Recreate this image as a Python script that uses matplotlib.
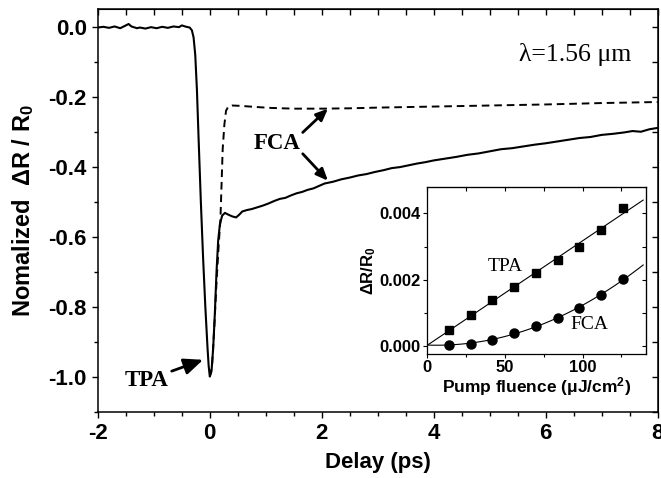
import numpy as np
import matplotlib
matplotlib.use("Agg")
import matplotlib.pyplot as plt
from matplotlib.ticker import MultipleLocator, FormatStrFormatter

plt.rcParams['font.family'] = ['Liberation Sans', 'DejaVu Sans']
plt.rcParams['axes.unicode_minus'] = False
plt.rcParams['lines.scale_dashes'] = False
plt.rcParams['mathtext.fontset'] = 'custom'
plt.rcParams['mathtext.rm'] = 'Liberation Sans:bold'
plt.rcParams['mathtext.it'] = 'Liberation Sans:bold'

# main trace: pump-probe delay (ps) vs normalized dR/R0
delay_meas = [-2.0, -1.9, -1.8, -1.7, -1.6, -1.5, -1.45, -1.4, -1.3, -1.25, -1.15, -1.05,
              -0.95, -0.85, -0.75, -0.65, -0.55, -0.5, -0.42, -0.36, -0.32, -0.29, -0.26,
              -0.23, -0.2, -0.16, -0.12, -0.08, -0.04, -0.02, 0.0, 0.03, 0.06, 0.09, 0.12,
              0.15, 0.18, 0.22, 0.27, 0.33, 0.4, 0.47, 0.52, 0.58, 0.66, 0.75, 0.85, 0.95,
              1.05, 1.15, 1.25, 1.35, 1.45, 1.55, 1.65, 1.75, 1.85, 1.95, 2.05, 2.2, 2.35,
              2.5, 2.65, 2.8, 2.95, 3.1, 3.25, 3.4, 3.55, 3.7, 3.85, 4.0, 4.2, 4.4, 4.6,
              4.8, 5.0, 5.2, 5.4, 5.6, 5.8, 6.0, 6.2, 6.4, 6.6, 6.8, 7.0, 7.2, 7.4, 7.55,
              7.7, 7.85, 8.0]
dr_meas = [-0.002, 0.0, -0.003, 0.001, -0.004, 0.004, 0.008, 0.001, -0.004, -0.002,
           -0.005, -0.001, -0.004, 0.0, -0.003, 0.001, -0.001, 0.004, 0.0, -0.002,
           -0.01, -0.03, -0.08, -0.18, -0.32, -0.5, -0.66, -0.8, -0.92, -0.97, -1.0,
           -0.985, -0.92, -0.82, -0.7, -0.61, -0.565, -0.54, -0.532, -0.537, -0.542,
           -0.545, -0.538, -0.528, -0.524, -0.521, -0.516, -0.511, -0.505, -0.498,
           -0.492, -0.489, -0.482, -0.476, -0.472, -0.466, -0.462, -0.455, -0.448,
           -0.443, -0.436, -0.431, -0.425, -0.421, -0.415, -0.41, -0.404, -0.401,
           -0.396, -0.391, -0.387, -0.382, -0.377, -0.372, -0.366, -0.362, -0.356,
           -0.35, -0.347, -0.342, -0.337, -0.333, -0.328, -0.323, -0.318, -0.315,
           -0.309, -0.306, -0.302, -0.298, -0.3, -0.293, -0.289]

# dashed trace
delay_fit = [0.0, 0.04, 0.08, 0.12, 0.16, 0.19, 0.21, 0.23, 0.26, 0.29, 0.33, 0.4, 0.55,
             0.8, 1.1, 1.5, 2.0, 2.5, 3.0, 4.0, 5.0, 6.0, 7.0, 8.0]
dr_fit = [-1.0, -0.97, -0.86, -0.73, -0.62, -0.55, -0.45, -0.35, -0.28, -0.24, -0.228,
          -0.225, -0.226, -0.229, -0.232, -0.234, -0.234, -0.233, -0.231, -0.228,
          -0.225, -0.222, -0.218, -0.215]

# inset: pump fluence dependence
fluence = [14, 28, 42, 56, 70, 84, 98, 112, 126]
tpa_amp = [0.00048, 0.00094, 0.00138, 0.00178, 0.00222, 0.0026, 0.0030, 0.0035, 0.00416]
fca_amp = [0.00004, 0.00008, 0.0002, 0.0004, 0.0006, 0.00086, 0.00115, 0.00155, 0.00202]

fig = plt.figure(figsize=(6.61, 4.78), dpi=100)
ax = fig.add_axes([0.148, 0.139, 0.847, 0.8415])

ax.plot(delay_meas, dr_meas, color='black', lw=1.5)
ax.plot(delay_fit, dr_fit, color='black', lw=1.4, ls=(0, (5.5, 3.5)))

ax.set_xlim(-2, 8)
ax.set_ylim(-1.1, 0.05)
ax.xaxis.set_major_locator(MultipleLocator(2))
ax.xaxis.set_minor_locator(MultipleLocator(0.5))
ax.yaxis.set_major_locator(MultipleLocator(0.2))
ax.yaxis.set_minor_locator(MultipleLocator(0.1))
ax.yaxis.set_major_formatter(FormatStrFormatter('%.1f'))
ax.xaxis.set_major_formatter(FormatStrFormatter('%d'))
ax.tick_params(which='both', direction='out', top=False, right=False, width=1.0)
ax.tick_params(which='major', length=4, labelsize=16, pad=4)
ax.tick_params(which='minor', length=3)
for lbl in ax.get_xticklabels() + ax.get_yticklabels():
    lbl.set_fontweight('bold')
sec_x = ax.secondary_xaxis('top')
sec_x.xaxis.set_major_locator(MultipleLocator(0.5))
sec_x.tick_params(direction='in', length=4, width=1.0, labeltop=False)
sec_y = ax.secondary_yaxis('right')
sec_y.yaxis.set_major_locator(MultipleLocator(0.1))
sec_y.tick_params(direction='in', length=4, width=1.0, labelright=False)
for s in ax.spines.values():
    s.set_linewidth(1.1)

ax.set_xlabel('Delay (ps)', fontsize=16, fontweight='bold', labelpad=6)
ax.set_ylabel(r'Nomalized  $\Delta$R / R$_0$', fontsize=17, fontweight='bold', labelpad=9)

serif = ['Liberation Serif', 'DejaVu Serif']
arrow = dict(arrowstyle='-|>,head_length=0.7,head_width=0.3', color='black', lw=2.0,
             shrinkA=0, shrinkB=0)
ax.annotate('TPA', xy=(-0.12, -0.952), xytext=(-0.73, -1.01), fontsize=16.5,
            fontweight='bold', family=serif, ha='right', va='center', arrowprops=arrow)
ax.text(1.2, -0.335, 'FCA', fontsize=16.5, fontweight='bold', family=serif,
        ha='center', va='center')
ax.annotate('', xy=(2.11, -0.234), xytext=(1.66, -0.302), arrowprops=arrow)
ax.annotate('', xy=(2.11, -0.44), xytext=(1.66, -0.363), arrowprops=arrow)
ax.text(7.52, -0.078, '\u03bb=1.56 \u03bcm', fontsize=18.5, family=serif,
        ha='right', va='center')

# inset
ins = fig.add_axes([0.646, 0.259, 0.331, 0.350])
ins.plot(fluence, tpa_amp, 's', color='black', ms=6)
ins.plot(fluence, fca_amp, 'o', color='black', ms=6.5)
xf = np.linspace(1, 139, 100)
ins.plot(xf, np.polyval(np.polyfit(fluence, tpa_amp, 1), xf), color='black', lw=0.8)
ins.plot(xf, np.polyval(np.polyfit(fluence, fca_amp, 2), xf), color='black', lw=0.8)
ins.set_xlim(0, 140.7)
ins.set_ylim(-0.00024, 0.0048)
ins.xaxis.set_major_locator(MultipleLocator(50))
ins.xaxis.set_minor_locator(MultipleLocator(25))
ins.yaxis.set_major_locator(MultipleLocator(0.002))
ins.yaxis.set_minor_locator(MultipleLocator(0.001))
ins.yaxis.set_major_formatter(FormatStrFormatter('%.3f'))
ins.tick_params(which='both', direction='out', top=False, right=False, width=0.8)
ins.tick_params(which='major', length=3, labelsize=12, pad=1.5)
ins.tick_params(which='minor', length=2)
for lbl in ins.get_xticklabels() + ins.get_yticklabels():
    lbl.set_fontweight('bold')
isx = ins.secondary_xaxis('top')
isx.xaxis.set_major_locator(MultipleLocator(25))
isx.tick_params(direction='in', length=3, width=0.8, labeltop=False)
isy = ins.secondary_yaxis('right')
isy.yaxis.set_major_locator(MultipleLocator(0.001))
isy.tick_params(direction='in', length=3, width=0.8, labelright=False)
for s in ins.spines.values():
    s.set_linewidth(0.9)
ins.set_xlabel('Pump fluence ($\\mu$J/cm$^2$)', fontsize=12.5, fontweight='bold', labelpad=0)
ins.set_ylabel(r'$\Delta$R/R$_0$', fontsize=12, fontweight='bold', labelpad=1)
ins.text(50.3, 0.00239, 'TPA', fontsize=14, family=serif, ha='center', va='center')
ins.text(104.2, 0.00066, 'FCA', fontsize=14, family=serif, ha='center', va='center')

fig.savefig('out.png', dpi=100)
